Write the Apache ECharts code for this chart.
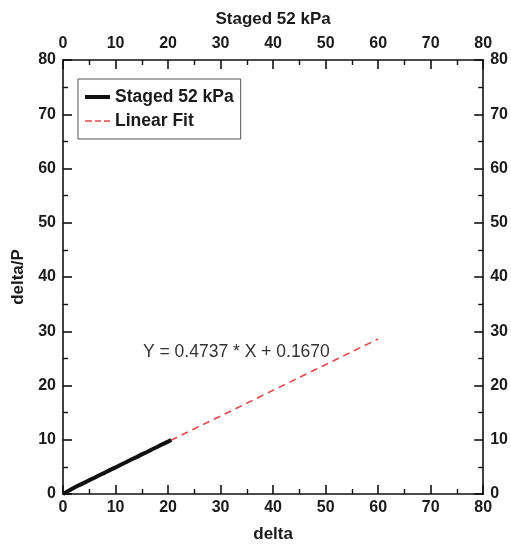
<!DOCTYPE html>
<html>
<head>
<meta charset="utf-8">
<script src="https://cdn.jsdelivr.net/npm/echarts@6/dist/echarts.min.js"></script>
<style>
  html, body { margin: 0; padding: 0; background: #fff; }
  #chart { width: 511px; height: 548px; }
</style>
</head>
<body>
<div id="chart"></div>
<script>
// Measured delta vs delta/P for the staged 52 kPa test
const stagedDelta = [0, 1, 2, 3, 4, 5, 6, 7, 8, 9, 10, 11, 12, 13, 14, 15, 16, 17, 18, 19, 20, 20.6];
const stagedRatio = [0, 0.55, 1.1, 1.6, 2.05, 2.55, 3.0, 3.5, 3.95, 4.45, 4.9, 5.4, 5.85, 6.35, 6.8, 7.3, 7.75, 8.25, 8.7, 9.2, 9.65, 9.95];

// Linear fit end points: Y = 0.4737 * X + 0.1670
const fitDelta = [0, 60];
const fitRatio = [0.167, 28.589];

const axisTicks = [0, 10, 20, 30, 40, 50, 60, 70, 80];
const fitLabel = 'Y = 0.4737 * X + 0.1670';

const zip = (xs, ys) => xs.map((x, i) => [x, ys[i]]);

const FONT = 'Liberation Sans, Arial, sans-serif';
const labelStyle = { fontFamily: FONT, fontSize: 16, fontWeight: 'bold', color: '#1a1a1a' };

function axis(position, extra) {
  return Object.assign({
    type: 'value',
    position: position,
    min: axisTicks[0],
    max: axisTicks[axisTicks.length - 1],
    interval: axisTicks[1] - axisTicks[0],
    axisLine: { show: true, onZero: false, lineStyle: { color: '#111', width: 1.6 } },
    axisTick: { show: true, inside: true, length: 9, lineStyle: { color: '#111', width: 1.6 } },
    minorTick: { show: true, splitNumber: 2, length: 5, lineStyle: { color: '#111', width: 1.4 } },
    splitLine: { show: false },
    axisLabel: Object.assign({ margin: 6 }, labelStyle),
    nameTextStyle: { fontFamily: FONT, fontSize: 17, fontWeight: 'bold', color: '#1a1a1a' }
  }, extra);
}

const chart = echarts.init(document.getElementById('chart'), null, { renderer: 'canvas' });

chart.setOption({
  animation: false,
  backgroundColor: '#fff',
  grid: { left: 63, right: 27, top: 60, bottom: 51, containLabel: false },
  xAxis: [
    axis('bottom', { name: 'delta', nameLocation: 'middle', nameGap: 32 }),
    axis('top', { name: 'Staged 52 kPa', nameLocation: 'middle', nameGap: 32,
      axisLabel: Object.assign({ margin: 8 }, labelStyle) })
  ],
  yAxis: [
    axis('left', { name: 'delta/P', nameLocation: 'middle', nameGap: 34,
      axisLabel: Object.assign({ margin: 7 }, labelStyle) }),
    axis('right', { axisLabel: Object.assign({ margin: 7 }, labelStyle) })
  ],
  legend: {
    orient: 'vertical',
    left: 78,
    top: 79,
    padding: [8, 7, 8, 7],
    itemGap: 4,
    itemWidth: 25,
    itemHeight: 12,
    borderColor: '#555',
    borderWidth: 1,
    backgroundColor: '#fff',
    textStyle: { fontFamily: FONT, fontSize: 17.5, fontWeight: 'bold', color: '#1a1a1a', lineHeight: 20 },
    data: [
      { name: 'Staged 52 kPa', icon: 'path://M0,0 L25,0 L25,4 L0,4 Z' },
      { name: 'Linear Fit', icon: 'path://M0,0 L7,0 L7,1.5 L0,1.5 Z M10,0 L16,0 L16,1.5 L10,1.5 Z M19,0 L25,0 L25,1.5 L19,1.5 Z' }
    ]
  },
  series: [
    {
      name: 'Linear Fit',
      type: 'line',
      data: zip(fitDelta, fitRatio),
      showSymbol: false,
      symbol: 'none',
      z: 2,
      itemStyle: { color: '#e04848' },
      lineStyle: { color: '#e04848', width: 1.6, type: [7, 5] }
    },
    {
      name: 'Staged 52 kPa',
      type: 'line',
      data: zip(stagedDelta, stagedRatio),
      showSymbol: false,
      symbol: 'none',
      z: 3,
      itemStyle: { color: '#111' },
      lineStyle: { color: '#111', width: 4 }
    }
  ],
  graphic: [
    {
      type: 'text',
      left: 143,
      top: 343,
      style: { text: fitLabel, font: '17.5px ' + FONT, fill: '#333' }
    }
  ]
});
</script>
</body>
</html>
